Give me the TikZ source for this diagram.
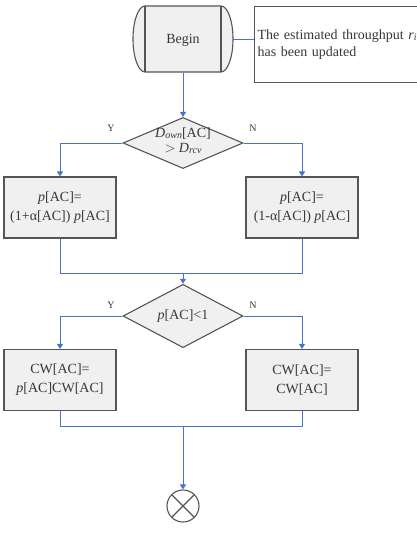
\documentclass[tikz,border=0pt]{standalone}
\usepackage{fontspec}
\setmainfont{Liberation Serif}
\usetikzlibrary{shapes.geometric,arrows.meta}

\definecolor{flowblue}{RGB}{70,116,205}
\definecolor{boxgray}{RGB}{240,240,240}
\definecolor{edgegray}{RGB}{85,85,85}
\definecolor{txtgray}{RGB}{55,55,55}

\tikzset{
  stepbox/.style={draw=edgegray,fill=boxgray,line width=1.1pt,minimum width=112pt,minimum height=61pt,
    align=center,text=txtgray,font=\fontsize{14}{19}\selectfont},
  decision/.style={diamond,draw=edgegray,fill=boxgray,line width=1.1pt,minimum width=120pt,minimum height=51pt,
    inner sep=0pt,text=txtgray,font=\fontsize{14}{15}\selectfont},
  notebox/.style={draw=edgegray,line width=1.1pt,minimum height=76pt,text width=172pt,inner xsep=3pt,
    align=left,text=txtgray,font=\fontsize{14}{17}\selectfont},
  flow/.style={draw=flowblue,line width=1pt},
  flowarrow/.style={flow,-{Triangle[width=6pt,length=5pt]}},
  yn/.style={text=txtgray,font=\fontsize{10}{12}\selectfont},
}

\newcommand{\tightlines}[1]{\smash{\makebox[0pt]{\raisebox{-3pt}{\begin{tabular}{@{}c@{}}#1\end{tabular}}}}}
\newcommand{\subit}[1]{\raisebox{-1pt}{\fontsize{10}{10}\selectfont\itshape #1}}

\begin{document}
\begin{tikzpicture}[x=1pt,y=1pt]
\useasboundingbox (0,0) rectangle (417,-543);

\filldraw[fill=boxgray,draw=edgegray,line width=1.1pt] (145,-6) -- (221,-6)
  arc[start angle=90,end angle=-90,x radius=12,y radius=33] -- (145,-72)
  arc[start angle=270,end angle=90,x radius=12,y radius=33] -- cycle;
\draw[edgegray,line width=1.1pt] (145,-6) -- (145,-72) (221,-6) -- (221,-72);
\node[text=txtgray,font=\fontsize{14}{17}\selectfont,minimum width=100pt,minimum height=66pt,inner sep=0pt] (begin) at (183,-40) {Begin};

\node[notebox,anchor=north west] (note) at (254,-6) {The estimated throughput \textit{r}\subit{i}\\has been updated};
\draw[flow] (begin.east) -- (begin.east -| note.west);

\node[decision] (rate) at (183,-143) {\tightlines{\textit{D}\subit{own}[AC]\\$>$ \textit{D}\subit{rcv}}};
\draw[flowarrow] (begin.south) -- (rate.north);

\node[stepbox] (up) at (60,-207.5) {\textit{p}[AC]=\\(1+α[AC]) \textit{p}[AC]};
\node[stepbox] (down) at (302,-207.5) {\textit{p}[AC]=\\(1-α[AC]) \textit{p}[AC]};
\draw[flowarrow] (rate.west) -| (up.north);
\draw[flowarrow] (rate.east) -| (down.north);
\node[yn] (y1) at (111,-128) {Y};
\node[yn] (n1) at (253,-128) {N};

\coordinate (join1) at (183,-273);
\draw[flow] (up.south) |- (join1);
\draw[flow] (down.south) |- (join1);

\node[decision] (check) at (183,-316) {\textit{p}[AC]<1};
\draw[flowarrow] (join1) -- (check.north);

\node[stepbox] (scale) at (60,-380) {CW[AC]=\\\textit{p}[AC]CW[AC]};
\node[stepbox] (keep) at (302,-380) {CW[AC]=\\CW[AC]};
\draw[flowarrow] (check.west) -| (scale.north);
\draw[flowarrow] (check.east) -| (keep.north);
\node[yn] (y2) at (111,-305) {Y};
\node[yn] (n2) at (253,-305) {N};

\coordinate (join2) at (183,-426);
\draw[flow] (scale.south) |- (join2);
\draw[flow] (keep.south) |- (join2);

\node[circle,draw=edgegray,line width=1.1pt,minimum size=32pt,inner sep=0pt,
  path picture={\draw[edgegray,line width=1.1pt] (path picture bounding box.north west) -- (path picture bounding box.south east)
  (path picture bounding box.north east) -- (path picture bounding box.south west);}] (stop) at (183,-506) {};
\draw[flowarrow] (join2) -- (stop.north);
\end{tikzpicture}
\end{document}
